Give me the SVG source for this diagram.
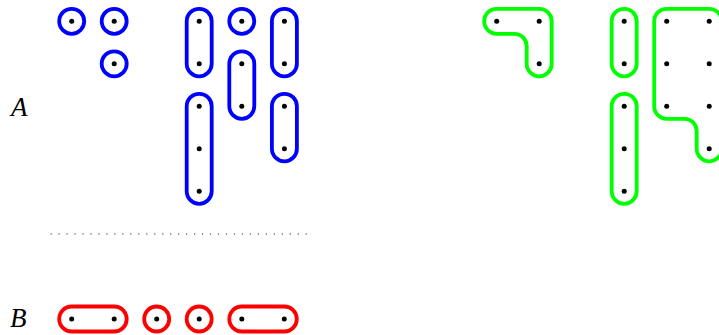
<svg xmlns="http://www.w3.org/2000/svg" width="719" height="335" viewBox="0 0 719 335">
<style>
.b{fill:none;stroke:#0000ff;stroke-width:3.8}
.g{fill:none;stroke:#00ff00;stroke-width:3.8}
.r{fill:none;stroke:#ff0000;stroke-width:3.8}
.d{fill:#000}
.lbl{font-family:"Liberation Serif","DejaVu Serif",serif;font-style:italic;font-size:27px;fill:#000}
</style>
<defs>
<circle id="dot" r="2.5" class="d"/>
</defs>
<text class="lbl" x="11" y="116">A</text>
<text class="lbl" x="10" y="327">B</text>
<g id="sep"><line x1="50.5" y1="234" x2="308" y2="234" stroke="#777" stroke-width="1.4" stroke-dasharray="1.3 6.67"/></g>
<g id="blue">
<g id="b1"><circle cx="71.7" cy="21.3" r="12.5" class="b"/><use href="#dot" x="71.7" y="21.3"/></g>
<g id="b2"><circle cx="114.2" cy="21.3" r="12.5" class="b"/><use href="#dot" x="114.2" y="21.3"/></g>
<g id="b3"><circle cx="114.2" cy="63.8" r="12.5" class="b"/><use href="#dot" x="114.2" y="63.8"/></g>
<g id="b4"><rect x="186.7" y="8.8" width="25" height="67.5" rx="12.5" class="b"/><use href="#dot" x="199.2" y="21.3"/><use href="#dot" x="199.2" y="63.8"/></g>
<g id="b5"><rect x="186.7" y="93.8" width="25" height="110" rx="12.5" class="b"/><use href="#dot" x="199.2" y="106.3"/><use href="#dot" x="199.2" y="148.8"/><use href="#dot" x="199.2" y="191.3"/></g>
<g id="b6"><circle cx="241.8" cy="21.3" r="12.5" class="b"/><use href="#dot" x="241.8" y="21.3"/></g>
<g id="b7"><rect x="229.3" y="51.3" width="25" height="67.5" rx="12.5" class="b"/><use href="#dot" x="241.8" y="63.8"/><use href="#dot" x="241.8" y="106.3"/></g>
<g id="b8"><rect x="271.9" y="8.8" width="25" height="67.5" rx="12.5" class="b"/><use href="#dot" x="284.4" y="21.3"/><use href="#dot" x="284.4" y="63.8"/></g>
<g id="b9"><rect x="271.9" y="93.8" width="25" height="67.5" rx="12.5" class="b"/><use href="#dot" x="284.4" y="106.3"/><use href="#dot" x="284.4" y="148.8"/></g>
</g>
<g id="green">
<g id="g1"><path class="g" d="M496.7 8.8H539.2A12.5 12.5 0 0 1 551.7 21.3V63.8A12.5 12.5 0 0 1 526.7 63.8V46.3A12.5 12.5 0 0 0 514.2 33.8H496.7A12.5 12.5 0 0 1 496.7 8.8Z"/><use href="#dot" x="496.7" y="21.3"/><use href="#dot" x="539.2" y="21.3"/><use href="#dot" x="539.2" y="63.8"/></g>
<g id="g2"><rect x="611.7" y="8.8" width="25" height="67.5" rx="12.5" class="g"/><use href="#dot" x="624.2" y="21.3"/><use href="#dot" x="624.2" y="63.8"/></g>
<g id="g3"><rect x="611.7" y="93.8" width="25" height="110" rx="12.5" class="g"/><use href="#dot" x="624.2" y="106.3"/><use href="#dot" x="624.2" y="148.8"/><use href="#dot" x="624.2" y="191.3"/></g>
<g id="g4"><path class="g" d="M666.7 8.8H709.2A12.5 12.5 0 0 1 721.7 21.3V148.8A12.5 12.5 0 0 1 696.7 148.8V131.3A12.5 12.5 0 0 0 684.2 118.8H666.7A12.5 12.5 0 0 1 654.2 106.3V21.3A12.5 12.5 0 0 1 666.7 8.8Z"/><use href="#dot" x="666.7" y="21.3"/><use href="#dot" x="709.2" y="21.3"/><use href="#dot" x="666.7" y="63.8"/><use href="#dot" x="709.2" y="63.8"/><use href="#dot" x="666.7" y="106.3"/><use href="#dot" x="709.2" y="106.3"/><use href="#dot" x="709.2" y="148.8"/></g>
</g>
<g id="red">
<g id="r1"><rect x="59.2" y="306.5" width="67.5" height="25" rx="12.5" class="r"/><use href="#dot" x="71.7" y="319"/><use href="#dot" x="114.2" y="319"/></g>
<g id="r2"><circle cx="156.7" cy="319" r="12.5" class="r"/><use href="#dot" x="156.7" y="319"/></g>
<g id="r3"><circle cx="199.2" cy="319" r="12.5" class="r"/><use href="#dot" x="199.2" y="319"/></g>
<g id="r4"><rect x="229.3" y="306.5" width="67.5" height="25" rx="12.5" class="r"/><use href="#dot" x="241.8" y="319"/><use href="#dot" x="284.3" y="319"/></g>
</g>
</svg>
